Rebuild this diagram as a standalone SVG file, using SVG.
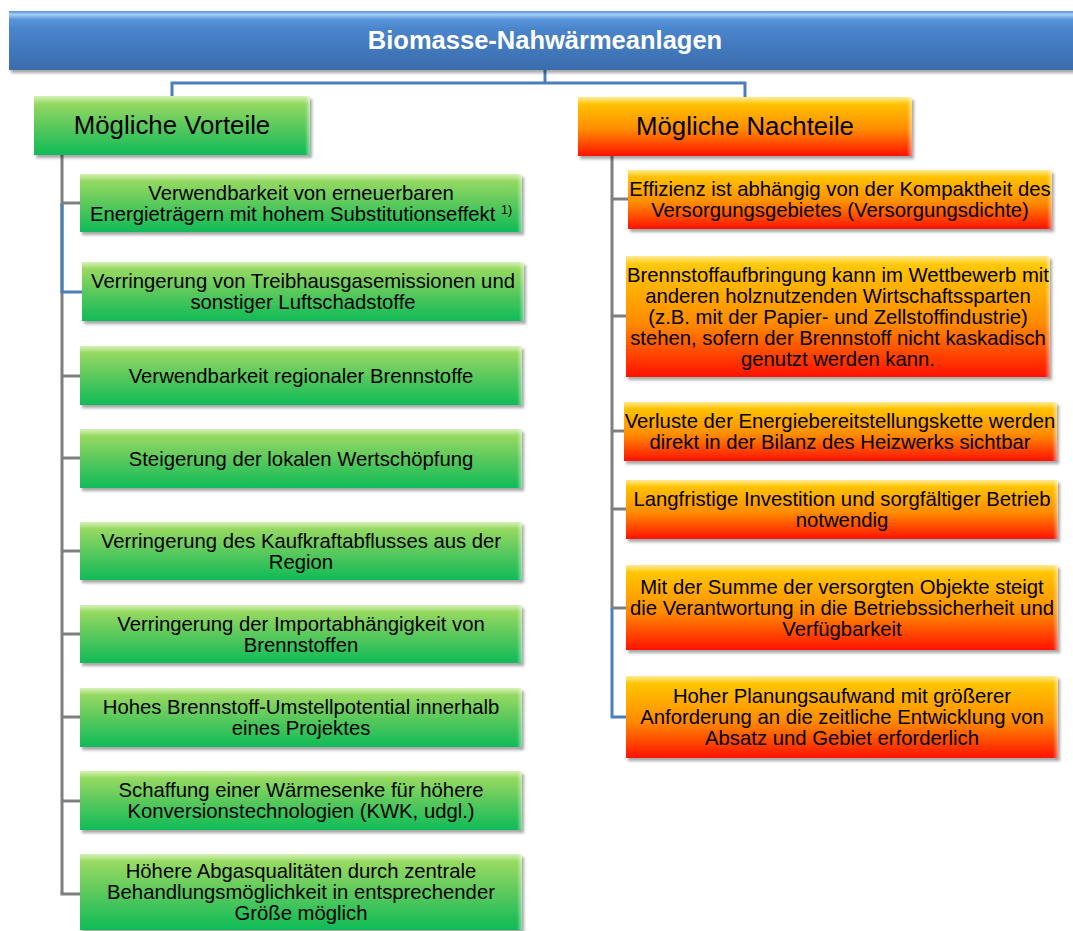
<svg xmlns="http://www.w3.org/2000/svg" width="1073" height="931" viewBox="0 0 1073 931">
<style>
.t{font-family:"Liberation Sans",Arial,sans-serif;font-size:20.3px;fill:#000;text-anchor:middle}
.h{font-family:"Liberation Sans",Arial,sans-serif;font-size:25.8px;fill:#000;text-anchor:middle}
.ti{font-family:"Liberation Sans",Arial,sans-serif;font-size:25.5px;font-weight:bold;fill:#fff;text-anchor:middle}
.g{fill:url(#gGreen);filter:url(#sh)}
.o{fill:url(#gOrange);filter:url(#sh)}
.b{fill:url(#gBlue);filter:url(#sh)}
.hl{fill:url(#gHi)}
.hr{fill:url(#gHr)}
.cg{fill:none;stroke:#7f7f7f;stroke-width:3}
.cb{fill:none;stroke:#4a7ebb;stroke-width:3}
</style>
<defs>
<linearGradient id="gGreen" x1="0" y1="0" x2="0" y2="1">
<stop offset="0" stop-color="#b2e67a"/>
<stop offset="0.1" stop-color="#98da62"/>
<stop offset="0.5" stop-color="#5cc95c"/>
<stop offset="1" stop-color="#0fbb58"/>
</linearGradient>
<linearGradient id="gOrange" x1="0" y1="0" x2="0" y2="1">
<stop offset="0" stop-color="#ffd83a"/>
<stop offset="0.1" stop-color="#ffc400"/>
<stop offset="0.55" stop-color="#ff8c00"/>
<stop offset="1" stop-color="#ff1200"/>
</linearGradient>
<linearGradient id="gBlue" x1="0" y1="0" x2="0" y2="1">
<stop offset="0" stop-color="#5a8fd2"/>
<stop offset="0.06" stop-color="#a2cdf8"/>
<stop offset="0.14" stop-color="#5b95db"/>
<stop offset="0.3" stop-color="#4a85cc"/>
<stop offset="1" stop-color="#3a6cac"/>
</linearGradient>
<linearGradient id="gHi" x1="0" y1="0" x2="0" y2="1">
<stop offset="0" stop-color="#fff" stop-opacity="0.45"/>
<stop offset="1" stop-color="#fff" stop-opacity="0"/>
</linearGradient>
<linearGradient id="gHr" x1="0" y1="0" x2="1" y2="0">
<stop offset="0" stop-color="#fff" stop-opacity="0"/>
<stop offset="1" stop-color="#fff" stop-opacity="0.5"/>
</linearGradient>
<filter id="sh" x="-5%" y="-10%" width="115%" height="135%">
<feDropShadow dx="2" dy="3" stdDeviation="1.8" flood-color="#000" flood-opacity="0.35"/>
</filter>
</defs>
<rect width="1073" height="931" fill="#fff"/>

<g id="connectors">
<polyline class="cb" points="545,70 545,83"/>
<polyline class="cb" points="172,96 172,83 745,83 745,97"/>
<line class="cg" x1="62" y1="155" x2="62" y2="894"/>
<polyline class="cb" points="62,203 62,292 82,292"/>
<line class="cg" x1="62" y1="203" x2="80" y2="203"/>
<line class="cg" x1="62" y1="376" x2="80" y2="376"/>
<line class="cg" x1="62" y1="458" x2="80" y2="458"/>
<line class="cg" x1="62" y1="551" x2="80" y2="551"/>
<line class="cg" x1="62" y1="634" x2="80" y2="634"/>
<line class="cg" x1="62" y1="717" x2="80" y2="717"/>
<line class="cg" x1="62" y1="801" x2="80" y2="801"/>
<polyline class="cg" points="62,892 62,894 80,894"/>
<line class="cg" x1="612" y1="156" x2="612" y2="608"/>
<polyline class="cb" points="612,608 612,717 626,717"/>
<line class="cg" x1="612" y1="199" x2="628" y2="199"/>
<line class="cg" x1="612" y1="316" x2="626" y2="316"/>
<line class="cg" x1="612" y1="431" x2="624" y2="431"/>
<line class="cg" x1="612" y1="509" x2="626" y2="509"/>
<line class="cg" x1="612" y1="608" x2="626" y2="608"/>
</g>

<g id="title">
<rect class="b" x="9" y="11" width="1070" height="59"/>
<text class="ti" x="545" y="49">Biomasse-Nahwärmeanlagen</text>
</g>

<g id="vorteile">
<rect class="g" x="34" y="96" width="276" height="59"/>
<rect class="hl" x="34" y="96" width="276" height="8"/>
<rect class="hr" x="305" y="96" width="5" height="59"/>
<text class="h" x="172" y="134">Mögliche Vorteile</text>
</g>

<g id="nachteile">
<rect class="o" x="578" y="97" width="334" height="59"/>
<rect class="hl" x="578" y="97" width="334" height="8"/>
<rect class="hr" x="907" y="97" width="5" height="59"/>
<text class="h" x="745" y="135">Mögliche Nachteile</text>
</g>

<g id="v1">
<rect class="g" x="80" y="174" width="442" height="58"/>
<rect class="hl" x="80" y="174" width="442" height="7"/>
<rect class="hr" x="517" y="174" width="5" height="58"/>
<text class="t"><tspan x="301" y="199.7">Verwendbarkeit von erneuerbaren</tspan><tspan x="301" y="220.7">Energieträgern mit hohem Substitutionseffekt <tspan font-size="12.5" dy="-7">1)</tspan></tspan></text>
</g>

<g id="v2">
<rect class="g" x="82" y="262" width="442" height="59"/>
<rect class="hl" x="82" y="262" width="442" height="7"/>
<rect class="hr" x="519" y="262" width="5" height="59"/>
<text class="t"><tspan x="303" y="288.2">Verringerung von Treibhausgasemissionen und</tspan><tspan x="303" y="309.2">sonstiger Luftschadstoffe</tspan></text>
</g>

<g id="v3">
<rect class="g" x="80" y="346" width="442" height="59"/>
<rect class="hl" x="80" y="346" width="442" height="7"/>
<rect class="hr" x="517" y="346" width="5" height="59"/>
<text class="t" x="301" y="382.7">Verwendbarkeit regionaler Brennstoffe</text>
</g>

<g id="v4">
<rect class="g" x="80" y="429" width="442" height="59"/>
<rect class="hl" x="80" y="429" width="442" height="7"/>
<rect class="hr" x="517" y="429" width="5" height="59"/>
<text class="t" x="301" y="465.7">Steigerung der lokalen Wertschöpfung</text>
</g>

<g id="v5">
<rect class="g" x="80" y="522" width="442" height="58"/>
<rect class="hl" x="80" y="522" width="442" height="7"/>
<rect class="hr" x="517" y="522" width="5" height="58"/>
<text class="t"><tspan x="301" y="547.7">Verringerung des Kaufkraftabflusses aus der</tspan><tspan x="301" y="568.7">Region</tspan></text>
</g>

<g id="v6">
<rect class="g" x="80" y="605" width="442" height="58"/>
<rect class="hl" x="80" y="605" width="442" height="7"/>
<rect class="hr" x="517" y="605" width="5" height="58"/>
<text class="t"><tspan x="301" y="630.7">Verringerung der Importabhängigkeit von</tspan><tspan x="301" y="651.7">Brennstoffen</tspan></text>
</g>

<g id="v7">
<rect class="g" x="80" y="688" width="442" height="59"/>
<rect class="hl" x="80" y="688" width="442" height="7"/>
<rect class="hr" x="517" y="688" width="5" height="59"/>
<text class="t"><tspan x="301" y="714.2">Hohes Brennstoff-Umstellpotential innerhalb</tspan><tspan x="301" y="735.2">eines Projektes</tspan></text>
</g>

<g id="v8">
<rect class="g" x="80" y="771" width="442" height="59"/>
<rect class="hl" x="80" y="771" width="442" height="7"/>
<rect class="hr" x="517" y="771" width="5" height="59"/>
<text class="t"><tspan x="301" y="797.2">Schaffung einer Wärmesenke für höhere</tspan><tspan x="301" y="818.2">Konversionstechnologien (KWK, udgl.)</tspan></text>
</g>

<g id="v9">
<rect class="g" x="80" y="854" width="442" height="76"/>
<rect class="hl" x="80" y="854" width="442" height="7"/>
<rect class="hr" x="517" y="854" width="5" height="76"/>
<text class="t"><tspan x="301" y="878.2">Höhere Abgasqualitäten durch zentrale</tspan><tspan x="301" y="899.2">Behandlungsmöglichkeit in entsprechender</tspan><tspan x="301" y="920.2">Größe möglich</tspan></text>
</g>

<g id="n1">
<rect class="o" x="628" y="170" width="424" height="59"/>
<rect class="hl" x="628" y="170" width="424" height="7"/>
<rect class="hr" x="1047" y="170" width="5" height="59"/>
<text class="t"><tspan x="840" y="196.2">Effizienz ist abhängig von der Kompaktheit des</tspan><tspan x="840" y="217.2">Versorgungsgebietes (Versorgungsdichte)</tspan></text>
</g>

<g id="n2">
<rect class="o" x="626" y="256" width="424" height="121"/>
<rect class="hl" x="626" y="256" width="424" height="7"/>
<rect class="hr" x="1045" y="256" width="5" height="121"/>
<text class="t"><tspan x="838" y="281.7">Brennstoffaufbringung kann im Wettbewerb mit</tspan><tspan x="838" y="302.7">anderen holznutzenden Wirtschaftssparten</tspan><tspan x="838" y="323.7">(z.B. mit der Papier- und Zellstoffindustrie)</tspan><tspan x="838" y="344.7">stehen, sofern der Brennstoff nicht kaskadisch</tspan><tspan x="838" y="365.7">genutzt werden kann.</tspan></text>
</g>

<g id="n3">
<rect class="o" x="624" y="402" width="433" height="59"/>
<rect class="hl" x="624" y="402" width="433" height="7"/>
<rect class="hr" x="1052" y="402" width="5" height="59"/>
<text class="t"><tspan x="840" y="428.2">Verluste der Energiebereitstellungskette werden</tspan><tspan x="840" y="449.2">direkt in der Bilanz des Heizwerks sichtbar</tspan></text>
</g>

<g id="n4">
<rect class="o" x="626" y="480" width="432" height="59"/>
<rect class="hl" x="626" y="480" width="432" height="7"/>
<rect class="hr" x="1053" y="480" width="5" height="59"/>
<text class="t"><tspan x="842" y="506.2">Langfristige Investition und sorgfältiger Betrieb</tspan><tspan x="842" y="527.2">notwendig</tspan></text>
</g>

<g id="n5">
<rect class="o" x="626" y="565" width="432" height="85"/>
<rect class="hl" x="626" y="565" width="432" height="7"/>
<rect class="hr" x="1053" y="565" width="5" height="85"/>
<text class="t"><tspan x="842" y="593.7">Mit der Summe der versorgten Objekte steigt</tspan><tspan x="842" y="614.7">die Verantwortung in die Betriebssicherheit und</tspan><tspan x="842" y="635.7">Verfügbarkeit</tspan></text>
</g>

<g id="n6">
<rect class="o" x="626" y="676" width="432" height="82"/>
<rect class="hl" x="626" y="676" width="432" height="7"/>
<rect class="hr" x="1053" y="676" width="5" height="82"/>
<text class="t"><tspan x="842" y="703.2">Hoher Planungsaufwand mit größerer</tspan><tspan x="842" y="724.2">Anforderung an die zeitliche Entwicklung von</tspan><tspan x="842" y="745.2">Absatz und Gebiet erforderlich</tspan></text>
</g>
</svg>
